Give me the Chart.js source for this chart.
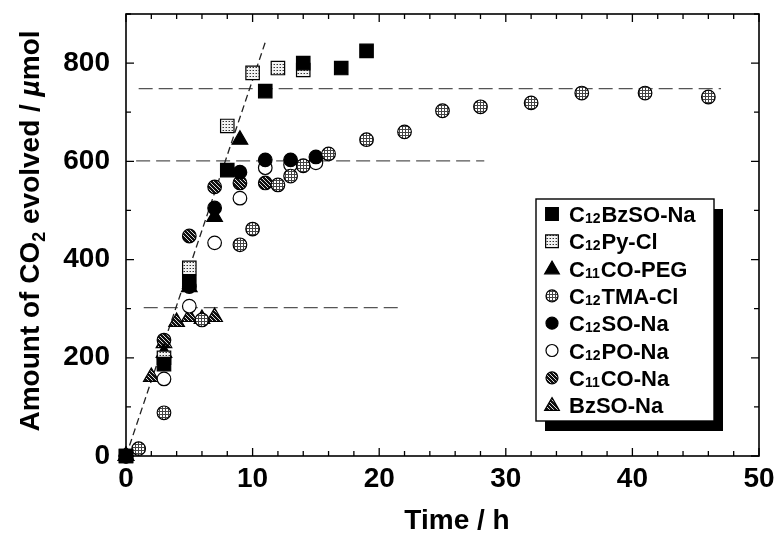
<!DOCTYPE html>
<html>
<head>
<meta charset="utf-8">
<script src="https://cdn.jsdelivr.net/npm/chart.js@4.4.1/dist/chart.umd.min.js"></script>
<style>
  body { margin: 0; background: #fff; }
  #chart { display: block; }
</style>
</head>
<body>
<canvas id="chart" width="778" height="541"></canvas>
<script>
// series names (digits right after "C" are drawn as subscripts)
const seriesNames = [
    "C12BzSO-Na",
    "C12Py-Cl",
    "C11CO-PEG",
    "C12TMA-Cl",
    "C12SO-Na",
    "C12PO-Na",
    "C11CO-Na",
    "BzSO-Na"
];

const c12BzSONaTime = [0, 3, 5, 8, 11, 14, 17, 19];
const c12BzSONaAmount = [0, 187, 354, 582, 743, 800, 790, 825];

const c12PyClTime = [0, 3, 5, 8, 10, 12, 14];
const c12PyClAmount = [0, 200, 383, 672, 780, 790, 786];

const c11COPEGTime = [0, 3, 5, 7, 9];
const c11COPEGAmount = [0, 210, 344, 487, 644];

const c12TMAClTime = [1, 3, 6, 9, 10, 12, 13, 14, 16, 19, 22, 25, 28, 32, 36, 41, 46];
const c12TMAClAmount = [15, 88, 277, 430, 462, 552, 570, 591, 615, 644, 660, 703, 711, 719, 739, 739, 731];

const c12SONaTime = [0, 3, 5, 7, 9, 11, 13, 15];
const c12SONaAmount = [0, 200, 345, 505, 578, 603, 603, 609];

const c12PONaTime = [0, 3, 5, 7, 9, 11, 13, 15];
const c12PONaAmount = [0, 157, 305, 434, 525, 587, 593, 597];

const c11CONaTime = [0, 3, 5, 7, 9, 11];
const c11CONaAmount = [0, 236, 448, 548, 556, 556];

const bzSONaTime = [0, 2, 3, 4, 5, 6, 7];
const bzSONaAmount = [0, 161, 230, 273, 283, 279, 283];

// dashed guide lines
const slopeGuideTime = [0, 11.06];
const slopeGuideAmount = [0, 847];
const plateau750Time = [1, 47];
const plateau750Amount = [748, 748];
const plateau600Time = [0.8, 28.3];
const plateau600Amount = [601, 601];
const plateau300Time = [1.4, 21.5];
const plateau300Amount = [302, 302];

const xTickLabels = [0, 10, 20, 30, 40, 50];
const yTickLabels = [0, 200, 400, 600, 800];

function toPoints(xs, ys) {
    return xs.map(function (x, i) { return { x: x, y: ys[i] }; });
}

function makePattern(size, draw) {
    const c = document.createElement("canvas");
    c.width = size;
    c.height = size;
    const g = c.getContext("2d");
    draw(g);
    return c.getContext("2d").createPattern(c, "repeat");
}

const dotGrid = makePattern(3, function (g) {
    g.fillStyle = "#fff";
    g.fillRect(0, 0, 3, 3);
    g.fillStyle = "#444";
    g.fillRect(0, 0, 3, 1);
    g.fillRect(0, 0, 1, 3);
});

const squareDots = makePattern(3, function (g) {
    g.fillStyle = "#f2f2f2";
    g.fillRect(0, 0, 3, 3);
    g.fillStyle = "#333";
    g.fillRect(1, 1, 1, 1);
    g.fillStyle = "#999";
    g.fillRect(0, 1, 1, 1);
});

const hatch = makePattern(4, function (g) {
    g.fillStyle = "#111";
    g.fillRect(0, 0, 4, 4);
    g.fillStyle = "#ddd";
    for (let i = 0; i < 4; i++) {
        g.fillRect(i, i, 1, 1);
    }
});

const markerStyles = [
    { pointStyle: "rect", radius: 9.5, fill: "#000" },
    { pointStyle: "rect", radius: 9.5, fill: squareDots },
    { pointStyle: "triangle", radius: 9, fill: "#000" },
    { pointStyle: "circle", radius: 6.8, fill: dotGrid },
    { pointStyle: "circle", radius: 6.8, fill: "#000" },
    { pointStyle: "circle", radius: 6.8, fill: "#fff" },
    { pointStyle: "circle", radius: 6.8, fill: hatch },
    { pointStyle: "triangle", radius: 9, fill: hatch }
];

const seriesData = [
    toPoints(c12BzSONaTime, c12BzSONaAmount),
    toPoints(c12PyClTime, c12PyClAmount),
    toPoints(c11COPEGTime, c11COPEGAmount),
    toPoints(c12TMAClTime, c12TMAClAmount),
    toPoints(c12SONaTime, c12SONaAmount),
    toPoints(c12PONaTime, c12PONaAmount),
    toPoints(c11CONaTime, c11CONaAmount),
    toPoints(bzSONaTime, bzSONaAmount)
];

const FONT = '"Liberation Sans", Arial, Helvetica, sans-serif';

function guide(xs, ys, dash, color) {
    return {
        type: "line",
        data: toPoints(xs, ys),
        borderColor: color,
        borderWidth: 1.3,
        borderDash: dash,
        pointRadius: 0,
        fill: false,
        order: 10
    };
}

const datasets = seriesNames.map(function (name, i) {
    const s = markerStyles[i];
    return {
        type: "scatter",
        label: name,
        data: seriesData[i],
        pointStyle: s.pointStyle,
        pointRadius: s.radius,
        pointHoverRadius: s.radius,
        pointBackgroundColor: s.fill,
        pointBorderColor: "#000",
        pointBorderWidth: 1.2,
        showLine: false,
        clip: false,
        order: 1
    };
});

datasets.push(guide(slopeGuideTime, slopeGuideAmount, [7, 4], "#222"));
datasets.push(guide(plateau750Time, plateau750Amount, [14, 6], "#555"));
datasets.push(guide(plateau600Time, plateau600Amount, [14, 6], "#555"));
datasets.push(guide(plateau300Time, plateau300Amount, [14, 6], "#555"));

// draws a string where the digits after a leading "C" become subscripts
function drawLabel(ctx, text, x, y, size, subSize) {
    const m = text.match(/^C(\d+)(.*)$/);
    ctx.textBaseline = "alphabetic";
    ctx.textAlign = "left";
    ctx.font = "bold " + size + "px " + FONT;
    if (!m) {
        ctx.fillText(text, x, y);
        return;
    }
    ctx.fillText("C", x, y);
    x += ctx.measureText("C").width;
    ctx.font = "bold " + subSize + "px " + FONT;
    ctx.fillText(m[1], x, y + 1);
    x += ctx.measureText(m[1]).width + 1;
    ctx.font = "bold " + size + "px " + FONT;
    ctx.fillText(m[2], x, y);
}

function drawMarker(ctx, style, x, y) {
    const r = style.radius;
    ctx.beginPath();
    if (style.pointStyle === "rect") {
        const h = r * Math.SQRT1_2;
        ctx.rect(x - h, y - h, 2 * h, 2 * h);
    } else if (style.pointStyle === "triangle") {
        ctx.moveTo(x, y - r);
        ctx.lineTo(x + r * 0.866, y + r * 0.5);
        ctx.lineTo(x - r * 0.866, y + r * 0.5);
        ctx.closePath();
    } else {
        ctx.arc(x, y, r, 0, Math.PI * 2);
    }
    ctx.fillStyle = style.fill;
    ctx.fill();
    ctx.lineWidth = 1.2;
    ctx.strokeStyle = "#000";
    ctx.stroke();
}

const framePlugin = {
    id: "frame",
    beforeDatasetsDraw(chart) {
        const ctx = chart.ctx;
        const a = chart.chartArea;
        const xs = chart.scales.x;
        const ys = chart.scales.y;
        ctx.save();
        ctx.strokeStyle = "#000";
        ctx.lineWidth = 1.6;
        ctx.strokeRect(a.left, a.top, a.right - a.left, a.bottom - a.top);
        ctx.lineWidth = 1.3;
        ctx.beginPath();
        for (let v = 0; v <= 50; v += 2) {
            const px = xs.getPixelForValue(v);
            const len = v % 10 === 0 ? 8 : 5;
            ctx.moveTo(px, a.bottom);
            ctx.lineTo(px, a.bottom - len);
            ctx.moveTo(px, a.top);
            ctx.lineTo(px, a.top + len);
        }
        for (let v = 0; v <= 900; v += 100) {
            const py = ys.getPixelForValue(v);
            const len = v % 200 === 0 ? 8 : 5;
            ctx.moveTo(a.left, py);
            ctx.lineTo(a.left + len, py);
            ctx.moveTo(a.right, py);
            ctx.lineTo(a.right - len, py);
        }
        ctx.stroke();
        ctx.restore();
    },
    afterDraw(chart) {
        const ctx = chart.ctx;
        const a = chart.chartArea;
        ctx.save();
        ctx.fillStyle = "#000";

        // x axis title
        ctx.font = "bold 28px " + FONT;
        ctx.textAlign = "center";
        ctx.textBaseline = "middle";
        ctx.fillText("Time / h", 457, 521);

        // y axis title with subscript and italic mu
        const parts = [
            { t: "Amount of CO", f: "bold 28px " + FONT, dy: 0 },
            { t: "2", f: "bold 18px " + FONT, dy: 6 },
            { t: " evolved / ", f: "bold 28px " + FONT, dy: 0 },
            { t: "\u00b5", f: "italic bold 28px " + FONT, dy: 0 },
            { t: "mol", f: "bold 28px " + FONT, dy: 0 }
        ];
        let total = 0;
        parts.forEach(function (p) {
            ctx.font = p.f;
            p.w = ctx.measureText(p.t).width;
            total += p.w;
        });
        ctx.translate(39, (a.top + a.bottom) / 2 - 4);
        ctx.rotate(-Math.PI / 2);
        ctx.textAlign = "left";
        ctx.textBaseline = "alphabetic";
        let cx = -total / 2;
        parts.forEach(function (p) {
            ctx.font = p.f;
            ctx.fillText(p.t, cx, p.dy);
            cx += p.w;
        });
        ctx.restore();

        // legend box with drop shadow
        const box = { left: 536, top: 199, right: 714, bottom: 421 };
        ctx.save();
        ctx.fillStyle = "#000";
        ctx.fillRect(box.left + 9, box.top + 10, box.right - box.left, box.bottom - box.top);
        ctx.fillStyle = "#fff";
        ctx.fillRect(box.left, box.top, box.right - box.left, box.bottom - box.top);
        ctx.strokeStyle = "#000";
        ctx.lineWidth = 1.4;
        ctx.strokeRect(box.left, box.top, box.right - box.left, box.bottom - box.top);
        seriesNames.forEach(function (name, i) {
            const y = 214 + i * 27.3;
            const st = Object.assign({}, markerStyles[i]);
            st.radius = st.pointStyle === "circle" ? 6 : (st.pointStyle === "rect" ? 9 : 8.5);
            drawMarker(ctx, st, 552, y + (st.pointStyle === "triangle" ? 1 : 0));
            ctx.fillStyle = "#000";
            drawLabel(ctx, name, 569, y + 8, 22, 14);
        });
        ctx.restore();
    }
};

new Chart(document.getElementById("chart"), {
    data: { datasets: datasets },
    options: {
        responsive: false,
        animation: false,
        devicePixelRatio: 1,
        layout: {
            padding: { top: 14, right: 19, left: 0, bottom: 0 }
        },
        plugins: {
            legend: { display: false },
            tooltip: { enabled: false }
        },
        scales: {
            x: {
                type: "linear",
                min: 0,
                max: 50,
                grid: { display: false, drawTicks: false },
                border: { display: false },
                afterFit: function (scale) {
                    scale.height = 85;
                    scale.paddingLeft = 0;
                    scale.paddingRight = 0;
                },
                ticks: {
                    stepSize: 10,
                    padding: 6,
                    color: "#000",
                    font: { family: FONT, size: 28, weight: "bold" },
                    callback: function (v) { return xTickLabels.includes(v) ? String(v) : ""; }
                }
            },
            y: {
                type: "linear",
                min: 0,
                max: 900,
                grid: { display: false, drawTicks: false },
                border: { display: false },
                afterFit: function (scale) {
                    scale.width = 126;
                    scale.paddingTop = 0;
                    scale.paddingBottom = 0;
                },
                ticks: {
                    stepSize: 200,
                    includeBounds: false,
                    padding: 16,
                    color: "#000",
                    font: { family: FONT, size: 28, weight: "bold" },
                    callback: function (v) { return yTickLabels.includes(v) ? String(v) : ""; }
                }
            }
        }
    },
    plugins: [framePlugin]
});
</script>
</body>
</html>
